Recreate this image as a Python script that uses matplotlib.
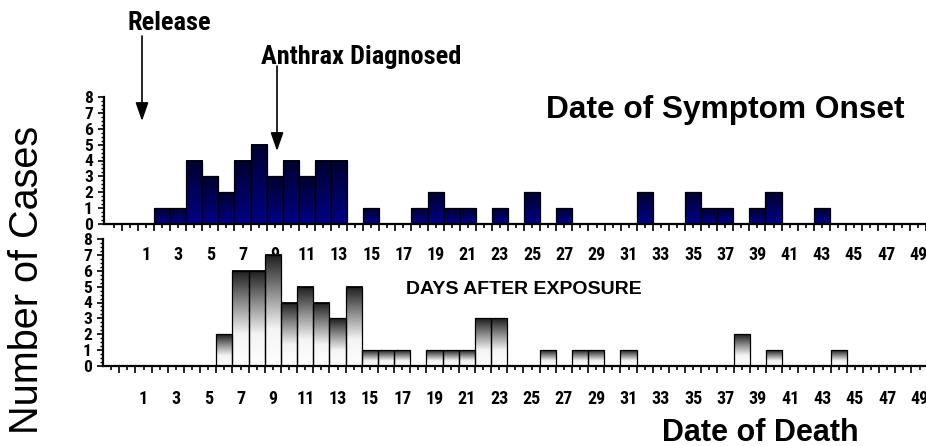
import numpy as np
import matplotlib
matplotlib.use('Agg')
import matplotlib.pyplot as plt
from matplotlib import font_manager
from matplotlib.patches import FancyArrowPatch
from matplotlib.colors import LinearSegmentedColormap

# Cases per day after exposure
onset_days = [2, 3, 4, 5, 6, 7, 8, 9, 10, 11, 12, 13, 15, 18, 19, 20, 21, 23, 25, 27,
              32, 35, 36, 37, 39, 40, 43]
onset_cases = [1, 1, 4, 3, 2, 4, 5, 3, 4, 3, 4, 4, 1, 1, 2, 1, 1, 1, 2, 1,
               2, 2, 1, 1, 1, 2, 1]
death_days = [6, 7, 8, 9, 10, 11, 12, 13, 14, 15, 16, 17, 19, 20, 21, 22, 23, 26,
              28, 29, 31, 38, 40, 44]
death_cases = [2, 6, 6, 7, 4, 5, 4, 3, 5, 1, 1, 1, 1, 1, 1, 3, 3, 1,
               1, 1, 1, 2, 1, 1]
day_ticks = list(range(-1, 52))
y_ticks = list(range(0, 9))

plt.rcParams['font.family'] = ['Liberation Sans', 'DejaVu Sans']


# look for a condensed (Arial Narrow-like) bold face among the installed fonts
def weight_num(w):
    if isinstance(w, (int, float)):
        return w
    return {'bold': 700, 'semibold': 600, 'demibold': 600, 'heavy': 800,
            'black': 900, 'medium': 500}.get(str(w).lower(), 400)


def find_narrow():
    prefs = ['Liberation Sans Narrow', 'Arial Narrow', 'Roboto Condensed', 'Noto Sans',
             'Open Sans', 'DejaVu Sans', 'Roboto']
    best = None
    for f in font_manager.fontManager.ttflist:
        cond = f.stretch in ('condensed', 'semi-condensed', 'extra-condensed') \
            or 'Narrow' in f.name or 'Condensed' in f.name
        if not cond or f.style != 'normal':
            continue
        rank = prefs.index(f.name) if f.name in prefs else len(prefs)
        score = (rank, abs(weight_num(f.weight) - 700))
        if best is None or score < best[0]:
            best = (score, f.fname)
    return best[1] if best else None


narrow_file = find_narrow()
if narrow_file:
    def nfont(size):
        return font_manager.FontProperties(fname=narrow_file, size=size)
    scale = 1.0
else:
    def nfont(size):
        return font_manager.FontProperties(family='Liberation Sans', weight='bold', size=size * 0.82)
    scale = 0.82

W, H = 926, 446
fig = plt.figure(figsize=(W / 100, H / 100), dpi=100)


def px_axes(left, top, right, bottom):
    return fig.add_axes([left / W, 1 - bottom / H, (right - left) / W, (bottom - top) / H])


navy = LinearSegmentedColormap.from_list('navy', ['#00002e', '#000088'])
greys = LinearSegmentedColormap.from_list('greys', ['#1c1c1c', '#8a8a8a', '#f4f4f4', '#ffffff'])


def draw_panel(ax, days, cases, cmap, xlim, label_pad):
    grad = np.linspace(0, 1, 256).reshape(-1, 1)
    for d, c in zip(days, cases):
        ax.imshow(grad, cmap=cmap, aspect='auto', extent=(d - 0.5, d + 0.5, 0, c),
                  interpolation='bilinear', zorder=1)
    ax.bar(days, cases, width=1.0, fill=False, edgecolor='black', linewidth=0.9, zorder=2)
    ax.set_xlim(*xlim)
    ax.set_ylim(0, 8)
    for s in ['top', 'right']:
        ax.spines[s].set_visible(False)
    for s in ['left', 'bottom']:
        ax.spines[s].set_linewidth(1.6)
    ax.patch.set_visible(False)
    ax.set_xticks([d + 0.5 for d in day_ticks])
    ax.set_xticklabels([])
    ax.set_xticks(day_ticks, minor=True)
    ax.set_xticklabels([str(d) if d % 2 == 1 and d > 0 else '' for d in day_ticks], minor=True,
                       fontproperties=nfont(13))
    ax.tick_params(axis='x', which='major', length=5, width=1.2, direction='out')
    ax.tick_params(axis='x', which='minor', length=3, width=1.2, direction='out', pad=label_pad)
    ax.set_yticks(y_ticks)
    ax.set_yticklabels([str(v) for v in y_ticks], fontproperties=nfont(12.5))
    ax.set_yticks(np.arange(0, 8.01, 0.25), minor=True)
    ax.tick_params(axis='y', which='major', length=4, width=1.2, pad=4)
    ax.tick_params(axis='y', which='minor', length=2.5, width=1.0)


ax_top = px_axes(104, 97, 960, 224)
draw_panel(ax_top, onset_days, onset_cases, navy, (-1.61, -1.61 + 856 / 16.09), 12.5)
ax_bot = px_axes(103, 239, 960, 366)
draw_panel(ax_bot, death_days, death_cases, greys, (-1.51, -1.51 + 857 / 16.45), 14.5)


def fx(px):
    return px / W


def fy(py):
    return 1 - py / H


fig.text(fx(27), fy(280), 'Number of Cases', rotation=90, fontsize=28.5,
         ha='center', va='center')
fig.text(fx(725), fy(110), 'Date of Symptom Onset', fontsize=22.8, fontweight='bold',
         ha='center', va='center')
fig.text(fx(524), fy(289), 'DAYS AFTER EXPOSURE', fontsize=14, fontweight='bold',
         ha='center', va='center')
fig.text(fx(760), fy(433), 'Date of Death', fontsize=22, fontweight='bold',
         ha='center', va='center')
fig.text(fx(169), fy(23), 'Release', fontproperties=nfont(19), ha='center', va='center')
fig.text(fx(361), fy(57), 'Anthrax Diagnosed', fontproperties=nfont(19), ha='center', va='center')

for x, y0, y1 in [(142, 36, 121), (277, 66, 151)]:
    fig.add_artist(FancyArrowPatch((fx(x), fy(y0)), (fx(x), fy(y1)), transform=fig.transFigure,
                                   arrowstyle='-|>,head_length=0.8,head_width=0.28',
                                   mutation_scale=14, color='black', lw=1.2,
                                   shrinkA=0, shrinkB=0))

fig.savefig('out.png', dpi=100)
